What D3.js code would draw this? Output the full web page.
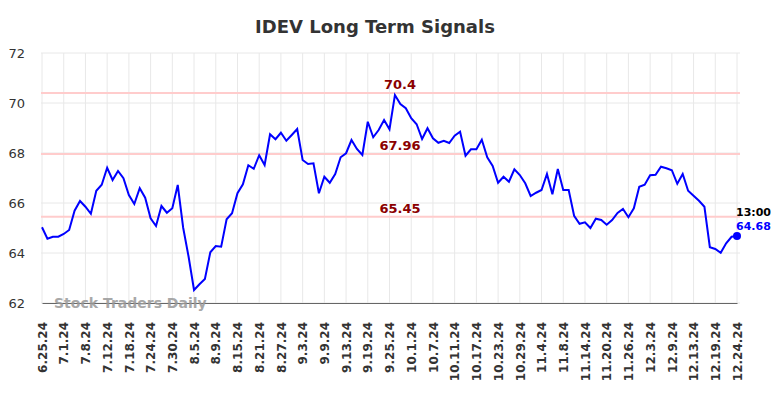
<!DOCTYPE html>
<html>
<head>
<meta charset="utf-8">
<script src="https://cdn.jsdelivr.net/npm/d3@7"></script>
<style>
  body { margin: 0; background: #fff; }
  text { font-family: "DejaVu Sans", sans-serif; }
</style>
</head>
<body>
<script>
// data
const tickLabels = ['6.25.24','7.1.24','7.8.24','7.12.24','7.18.24','7.24.24','7.30.24','8.5.24','8.9.24',
  '8.15.24','8.21.24','8.27.24','9.3.24','9.9.24','9.13.24','9.19.24','9.25.24','10.1.24','10.7.24',
  '10.11.24','10.17.24','10.23.24','10.29.24','11.4.24','11.8.24','11.14.24','11.20.24','11.26.24',
  '12.3.24','12.9.24','12.13.24','12.19.24','12.24.24'];

const prices = [
  65.03,64.57,64.65,64.65,64.76,64.92,65.69,66.08,65.85,65.57,
  66.49,66.73,67.41,66.92,67.28,66.99,66.32,65.96,66.59,66.21,
  65.39,65.08,65.88,65.61,65.79,66.72,65.01,63.85,62.52,62.75,
  62.96,64.03,64.28,64.25,65.35,65.59,66.39,66.75,67.51,67.37,
  67.91,67.52,68.75,68.55,68.81,68.49,68.72,68.96,67.72,67.56,
  67.59,66.39,67.05,66.81,67.16,67.83,67.99,68.52,68.16,67.92,
  69.25,68.63,68.92,69.32,68.95,70.32,69.96,69.79,69.39,69.15,
  68.56,68.99,68.59,68.41,68.49,68.40,68.69,68.85,67.89,68.15,
  68.15,68.53,67.83,67.48,66.81,67.05,66.85,67.35,67.12,66.79,
  66.28,66.41,66.52,67.16,66.35,67.36,66.52,66.52,65.49,65.17,
  65.23,65.00,65.37,65.32,65.13,65.32,65.60,65.76,65.43,65.79,
  66.65,66.73,67.11,67.13,67.45,67.39,67.31,66.77,67.16,66.49,
  66.29,66.09,65.85,64.23,64.16,64.01,64.39,64.65,64.68];

const signals = [70.4, 67.96, 65.45];
const yTicks = [62, 64, 66, 68, 70, 72];
const lastTime = '13:00';

const svg = d3.select('body')
  .append('svg')
    .attr('width', 784)
    .attr('height', 398);

const margin = {top: 53, right: 44, bottom: 95, left: 41};
const W = 784 - margin.left - margin.right;
const H = 398 - margin.top - margin.bottom;

const g = svg.append('g')
  .attr('transform', 'translate(' + margin.left + ',' + margin.top + ')');

const x = d3.scaleLinear()
  .domain([0, prices.length - 1])
  .range([1, W - 3]);

const y = d3.scaleLinear()
  .domain([62, 72])
  .range([H, 0]);

const tickIdx = tickLabels.map((d, i) => i * 4);

// title
svg.append('text')
  .attr('x', 375)
  .attr('y', 33)
  .attr('text-anchor', 'middle')
  .attr('font-size', 18)
  .attr('font-weight', 'bold')
  .attr('fill', '#333')
  .text('IDEV Long Term Signals');

// grid
g.append('g').selectAll('line')
  .data(yTicks)
  .enter().append('line')
    .attr('x1', 0).attr('x2', W)
    .attr('y1', d => y(d)).attr('y2', d => y(d))
    .attr('stroke', '#e8e8e8')
    .attr('stroke-width', 1);

g.append('g').selectAll('line')
  .data(tickIdx)
  .enter().append('line')
    .attr('x1', d => x(d)).attr('x2', d => x(d))
    .attr('y1', 0).attr('y2', H)
    .attr('stroke', '#e8e8e8')
    .attr('stroke-width', 1);

// y labels
g.append('g').selectAll('text')
  .data(yTicks)
  .enter().append('text')
    .attr('x', -16)
    .attr('y', d => y(d) + 5)
    .attr('text-anchor', 'end')
    .attr('font-size', 13)
    .attr('fill', '#333')
    .text(d => d);

// x axis
const xAxis = d3.axisBottom(x)
  .tickValues(tickIdx)
  .tickSize(0)
  .tickFormat((d, i) => tickLabels[i]);

const ax = g.append('g')
  .attr('transform', 'translate(0,' + H + ')')
  .call(xAxis);
ax.select('.domain').attr('stroke', '#666').attr('stroke-width', 1.2);
ax.selectAll('text')
  .attr('transform', 'rotate(-90)')
  .attr('text-anchor', 'end')
  .attr('x', -19)
  .attr('y', 0)
  .attr('dy', '0.35em')
  .attr('font-family', '"DejaVu Sans", sans-serif')
  .attr('font-size', 12)
  .attr('font-weight', 'bold')
  .attr('fill', '#333');

// signal lines
g.append('g').selectAll('line')
  .data(signals)
  .enter().append('line')
    .attr('x1', 0).attr('x2', W)
    .attr('y1', d => y(d)).attr('y2', d => y(d))
    .attr('stroke', '#ffcccc')
    .attr('stroke-width', 2);

g.append('g').selectAll('text')
  .data(signals)
  .enter().append('text')
    .attr('x', 359)
    .attr('y', d => y(d) - 4)
    .attr('text-anchor', 'middle')
    .attr('font-size', 13)
    .attr('font-weight', 'bold')
    .attr('fill', '#8b0000')
    .text(d => d);

// watermark
g.append('text')
  .attr('x', 13)
  .attr('y', H + 5)
  .attr('font-size', 14)
  .attr('font-weight', 'bold')
  .attr('fill', '#999')
  .attr('opacity', 0.85)
  .text('Stock Traders Daily');

// price line
const line = d3.line()
  .x((d, i) => x(i))
  .y(d => y(d));

g.append('path')
  .datum(prices)
  .attr('fill', 'none')
  .attr('stroke', '#0000ff')
  .attr('stroke-width', 2)
  .attr('d', line);

// last point
const last = prices.length - 1;
g.append('circle')
  .attr('cx', x(last))
  .attr('cy', y(prices[last]))
  .attr('r', 4)
  .attr('fill', '#0000ff');

g.append('text')
  .attr('x', x(last) - 1)
  .attr('y', y(prices[last]) - 20)
  .attr('font-size', 11)
  .attr('font-weight', 'bold')
  .attr('fill', '#000')
  .text(lastTime);

g.append('text')
  .attr('x', x(last) - 1)
  .attr('y', y(prices[last]) - 6)
  .attr('font-size', 11)
  .attr('font-weight', 'bold')
  .attr('fill', '#0000ff')
  .text(prices[last]);
</script>
</body>
</html>
